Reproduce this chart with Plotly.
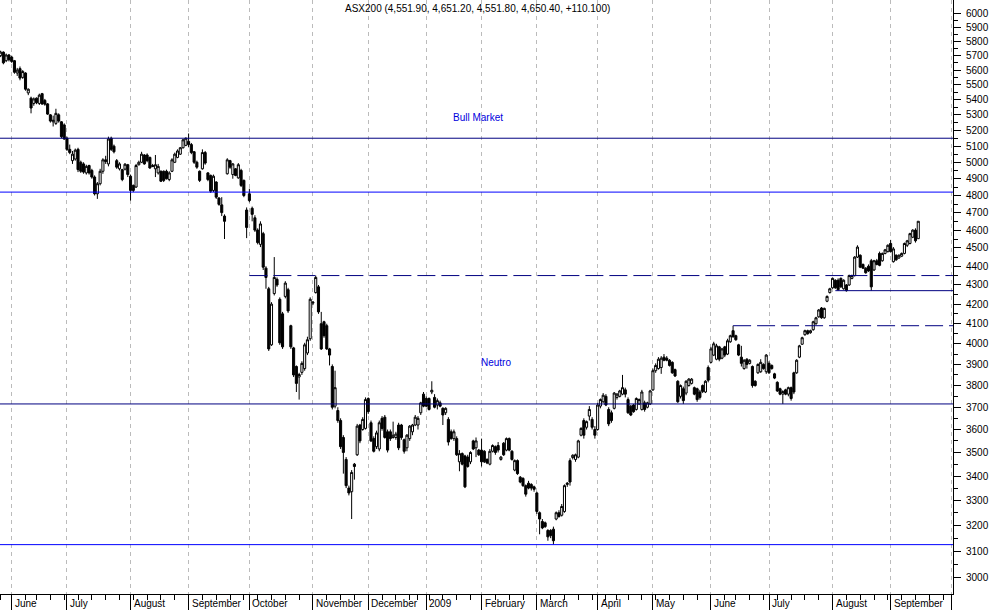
import numpy as np
import pandas as pd
import plotly.graph_objects as go

# ---------------- data ----------------
holidays = ["2008-06-09", "2008-12-25", "2008-12-26", "2009-01-01",
            "2009-01-26", "2009-04-10", "2009-04-13", "2009-06-08"]

# (open, high, low, close) per trading day, month by month
may08 = [(5700,5735,5690,5725),(5725,5730,5640,5650),(5665,5715,5655,5705),(5705,5712,5660,5672)]
jun08 = [(5690,5700,5650,5660),(5665,5670,5575,5585),(5580,5615,5560,5600),(5610,5625,5530,5545),
         (5550,5600,5540,5590),(5580,5585,5460,5470),(5445,5475,5430,5470),(5410,5420,5310,5345),
         (5375,5415,5360,5405),(5410,5415,5370,5380),(5375,5440,5365,5430),(5440,5445,5365,5372),
         (5395,5405,5360,5370),(5372,5378,5300,5305),(5300,5305,5250,5260),(5255,5295,5225,5265),
         (5245,5340,5235,5310),(5300,5310,5250,5260),(5255,5260,5150,5160),(5235,5245,5140,5145)]
jul08 = [(5150,5160,5070,5080),(5080,5110,5050,5060),(5010,5070,4990,5050),(5020,5085,5010,5075),
         (5080,5090,4940,4955),(5000,5010,4935,4945),(4990,5000,4930,4940),(4935,4985,4925,4975),
         (4980,4985,4925,4935),(4950,4960,4900,4910),(4910,4920,4800,4810),(4810,4880,4780,4870),
         (4870,4960,4860,4945),(4945,5025,4930,5015),(5015,5040,4990,5005),(4990,5160,4975,5145),
         (5150,5160,5070,5080),(5100,5110,5055,5065),(5010,5020,4960,4970),(4960,5000,4950,4990),
         (4955,4960,4885,4895),(4958,4995,4950,4988),(4985,4990,4910,4925)]
aug08 = [(4915,4925,4770,4830),(4860,4865,4820,4830),(4850,4990,4845,4980),(4985,5010,4980,5000),
         (5000,5065,4995,5050),(5045,5050,4985,4990),(5045,5055,5000,5010),(5030,5035,4960,4965),
         (4980,4990,4970,4975),(4960,5045,4910,4985),(4935,4990,4925,4975),(4945,4950,4880,4885),
         (4945,4950,4880,4890),(4945,4955,4895,4900),(4895,4945,4885,4935),(4945,5025,4940,5015),
         (5000,5060,4995,5050),(5030,5080,5025,5070),(5050,5095,5045,5090),(5090,5145,5085,5140),
         (5105,5155,5100,5150)]
sep08 = [(5130,5180,5095,5110),(5110,5120,5050,5060),(5065,5070,4990,5000),(5000,5010,4960,4970),
         (4945,4950,4880,4890),(4960,5080,4955,5060),(5060,5070,4985,4995),(4935,4940,4885,4895),
         (4920,4925,4815,4825),(4830,4925,4820,4915),(4880,4885,4780,4790),(4785,4790,4740,4748),
         (4745,4790,4680,4700),(4680,4690,4550,4650),(4930,5025,4925,5015),(5010,5015,4960,4970),
         (4925,4995,4900,4990),(4960,4965,4915,4920),(4905,4995,4900,4985),(4950,4960,4850,4860),
         (4890,4895,4790,4800),(4715,4730,4555,4615)]
oct08 = [(4810,4840,4760,4770),(4725,4735,4650,4690),(4670,4685,4590,4600),(4600,4610,4520,4530),
         (4520,4650,4505,4635),(4580,4590,4380,4395),(4390,4400,4280,4340),(4280,4290,3965,3975),
         (3995,4210,3990,4200),(4255,4450,4245,4340),(4330,4340,4290,4300),(4225,4235,3995,4005),
         (4150,4160,3975,3985),(4240,4320,4230,4310),(4275,4285,4155,4165),(4090,4095,3975,3985),
         (3980,3985,3840,3850),(3890,3895,3770,3810),(3840,3860,3735,3852),(3862,3915,3850,3905),
         (3880,4005,3870,3995),(3955,4035,3945,4020),(4025,4235,4015,4225)]
nov08 = [(4205,4215,4195,4210),(4260,4350,4255,4340),(4290,4300,4150,4160),(4100,4160,3970,3975),
         (4110,4115,4030,4040),(4090,4100,3970,3975),(3975,3980,3895,3945),(3890,3900,3690,3700),
         (3705,3870,3695,3790),(3685,3700,3630,3640),(3640,3650,3515,3525),(3565,3575,3410,3500),
         (3470,3480,3350,3360),(3350,3360,3320,3330),(3335,3425,3225,3415),(3450,3455,3385,3440),
         (3490,3625,3485,3615),(3620,3625,3540,3550),(3600,3655,3595,3645),(3605,3745,3600,3735)]
dec08 = [(3740,3745,3670,3680),(3630,3640,3545,3550),(3560,3570,3500,3505),(3525,3595,3515,3585),
         (3515,3640,3505,3630),(3650,3660,3595,3605),(3655,3665,3560,3565),(3590,3600,3500,3510),
         (3590,3600,3550,3560),(3565,3635,3560,3575),(3565,3590,3555,3580),(3620,3630,3510,3520),
         (3620,3625,3555,3565),(3555,3560,3495,3505),(3520,3580,3505,3575),(3560,3620,3550,3615),
         (3590,3625,3575,3620),(3620,3665,3615,3655),(3620,3660,3600,3650),(3675,3725,3665,3720),
         (3760,3770,3700,3705)]
jan09 = [(3740,3750,3700,3705),(3740,3745,3685,3690),(3770,3820,3760,3778),(3745,3760,3695,3700),
         (3710,3740,3690,3730),(3720,3730,3700,3705),(3695,3700,3620,3665),(3675,3700,3665,3695),
         (3645,3655,3530,3545),(3590,3600,3555,3560),(3560,3600,3550,3590),(3560,3570,3485,3490),
         (3460,3510,3420,3495),(3495,3500,3445,3450),(3485,3490,3350,3355),(3480,3490,3435,3440),
         (3460,3505,3450,3500),(3550,3555,3510,3515),(3520,3565,3480,3550),(3510,3515,3485,3490)]
feb09 = [(3510,3560,3440,3460),(3505,3510,3455,3460),(3470,3475,3450,3455),(3450,3515,3445,3505),
         (3505,3535,3500,3530),(3525,3530,3490,3500),(3530,3545,3500,3510),(3470,3485,3465,3480),
         (3540,3545,3485,3490),(3510,3565,3505,3560),(3560,3565,3505,3510),(3505,3510,3465,3470),
         (3425,3470,3420,3465),(3465,3470,3405,3410),(3395,3400,3370,3375),(3390,3395,3355,3360),
         (3360,3365,3315,3325),(3370,3380,3345,3350),(3365,3370,3340,3350),(3355,3360,3335,3345)]
mar09 = [(3330,3335,3245,3255),(3250,3255,3165,3225),(3215,3225,3185,3190),(3210,3215,3190,3195),
         (3180,3185,3140,3155),(3180,3185,3150,3160),(3185,3195,3125,3140),(3225,3255,3220,3250),
         (3250,3260,3230,3235),(3240,3285,3235,3275),(3255,3365,3250,3360),(3365,3375,3355,3370),
         (3465,3475,3360,3375),(3478,3492,3470,3488),(3470,3495,3460,3490),(3480,3555,3475,3550),
         (3575,3610,3570,3605),(3640,3650,3560,3575),(3610,3640,3600,3635),(3660,3705,3640,3690),
         (3645,3655,3600,3610),(3600,3615,3560,3575)]
apr09 = [(3600,3720,3595,3710),(3705,3740,3695,3735),(3725,3765,3720,3755),(3750,3760,3705,3710),
         (3690,3700,3615,3625),(3675,3685,3630,3640),(3695,3770,3690,3765),(3745,3765,3735,3760),
         (3750,3780,3745,3775),(3760,3850,3755,3790),(3780,3790,3745,3760),(3735,3745,3670,3675),
         (3705,3710,3660,3665),(3710,3715,3675,3680),(3690,3745,3685,3740),(3715,3740,3710,3735),
         (3690,3780,3685,3770),(3720,3730,3680,3690),(3700,3725,3695,3720),(3715,3780,3710,3775)]
may09 = [(3780,3880,3775,3870),(3870,3905,3860,3895),(3880,3935,3875,3925),(3885,3940,3855,3930),
         (3935,3950,3915,3920),(3930,3940,3915,3920),(3920,3925,3890,3895),(3910,3915,3855,3860),
         (3875,3880,3840,3845),(3820,3825,3720,3725),(3750,3805,3740,3800),(3785,3795,3715,3730),
         (3765,3825,3755,3820),(3800,3835,3795,3830),(3810,3835,3805,3830),(3790,3795,3755,3760),
         (3785,3790,3725,3735),(3770,3780,3735,3745),(3800,3805,3765,3772),(3770,3825,3765,3820),
         (3885,3895,3815,3825)]
jun09 = [(3910,3985,3905,3975),(3945,4010,3940,4000),(3925,4000,3920,3990),(3985,3990,3915,3925),
         (3930,3980,3925,3975),(3985,3990,3935,3945),(3950,4025,3945,4015),(4010,4045,4005,4040),
         (4065,4090,4030,4035),(4040,4045,4015,4020),(3995,4000,3940,3945),(3935,3990,3890,3905),
         (3880,3925,3875,3920),(3925,3930,3880,3900),(3905,3925,3900,3920),(3890,3895,3790,3800),
         (3820,3825,3795,3800),(3860,3905,3855,3900),(3865,3925,3860,3910),(3900,3905,3875,3880),
         (3865,3950,3855,3945)]
jul09 = [(3905,3915,3855,3860),(3895,3900,3875,3880),(3855,3860,3830,3835),(3815,3820,3770,3775),
         (3785,3790,3755,3760),(3760,3778,3715,3772),(3780,3785,3755,3760),(3760,3795,3750,3790),
         (3790,3795,3730,3740),(3860,3865,3760,3770),(3860,3925,3855,3920),(3935,3995,3930,3990),
         (3998,4035,3995,4030),(4045,4070,4040,4065),(4065,4070,4045,4050),(4055,4070,4050,4065),
         (4070,4115,4065,4110),(4100,4135,4095,4130),(4135,4175,4130,4170),(4180,4185,4125,4130),
         (4130,4182,4125,4178),(4215,4245,4210,4240),(4260,4285,4255,4280)]
aug09 = [(4285,4340,4280,4335),(4325,4330,4280,4285),(4325,4335,4270,4275),(4335,4340,4285,4290),
         (4280,4330,4275,4325),(4300,4305,4265,4270),(4300,4355,4295,4350),(4335,4355,4330,4350),
         (4350,4455,4345,4450),(4450,4515,4445,4505),(4460,4465,4390,4395),(4410,4415,4385,4390),
         (4390,4395,4360,4365),(4400,4410,4370,4375),(4430,4440,4270,4290),(4380,4435,4375,4430),
         (4430,4440,4405,4410),(4470,4480,4400,4405),(4430,4475,4425,4470),(4470,4495,4465,4490),
         (4480,4520,4475,4515)]
sep09 = [(4525,4545,4475,4480),(4425,4505,4420,4495),(4460,4465,4430,4435),(4445,4465,4440,4460),
         (4455,4475,4450,4470),(4470,4530,4465,4525),(4515,4545,4505,4540),(4525,4585,4520,4580),
         (4560,4605,4555,4600),(4600,4610,4530,4540),(4551.9,4651.2,4551.8,4650.4)]

# horizontal support / resistance levels
full_levels = [5150, 4820, 3715, 3125]
full_colors = ["#000080", "#0000FF", "#000080", "#0000FF"]
dashed_levels = [4350, 4090]
dashed_starts = ["2008-10-01", "2009-06-12"]
solid_levels = [4270]
solid_starts = ["2009-08-04"]

y_ticks = list(range(3000, 6001, 100))
y_minor = list(range(3050, 6000, 100))

month_names = {1: "2009", 2: "February", 3: "March", 4: "April", 5: "May", 6: "June",
               7: "July", 8: "August", 9: "September", 10: "October", 11: "November",
               12: "December"}

title_text = "ASX200 (4,551.90, 4,651.20, 4,551.80, 4,650.40, +110.100)"

# ---------------- build ----------------
all_days = pd.bdate_range("2008-05-27", "2009-09-15")
trade_days = [d for d in all_days if d.strftime("%Y-%m-%d") not in holidays]
ohlc = (may08 + jun08 + jul08 + aug08 + sep08 + oct08 + nov08 + dec08 + jan09 + feb09 +
        mar09 + apr09 + may09 + jun09 + jul09 + aug09 + sep09)
n = min(len(trade_days), len(ohlc))
if len(trade_days) != len(ohlc):
    print("length mismatch", len(trade_days), len(ohlc))
dates = [d.strftime("%Y-%m-%d") for d in trade_days[:n]]
o = [r[0] for r in ohlc[:n]]
h = [r[1] for r in ohlc[:n]]
l = [r[2] for r in ohlc[:n]]
c = [r[3] for r in ohlc[:n]]

# month starts (from June 2008) and weekly starts
month_starts = []
week_starts = []
prev = None
prev_week = None
for d in trade_days:
    key = (d.year, d.month)
    if key != prev:
        if d >= pd.Timestamp("2008-06-01"):
            month_starts.append(d)
        prev = key
    wk = d.isocalendar()[:2]
    if wk != prev_week:
        week_starts.append(d)
        prev_week = wk
month_tick_vals = [d.strftime("%Y-%m-%d") for d in month_starts] + ["2009-10-01"]
for extra in ["2009-09-21", "2009-09-28"]:
    week_starts.append(pd.Timestamp(extra))
week_tick_vals = [d.strftime("%Y-%m-%d") for d in week_starts]

x_range = ["2008-05-26 18:30", "2009-10-01 13:40"]
FONT = "Liberation Sans, Arial, sans-serif"
BLUE = "#0000DD"
NAVY = "#000080"

fig = go.Figure()

# level lines (as line traces, drawn in data units)
for lv, col in zip(full_levels, full_colors):
    fig.add_trace(go.Scatter(x=x_range, y=[lv, lv], mode="lines",
                             line=dict(color=col, width=1), hoverinfo="skip"))
for lv, st in zip(dashed_levels, dashed_starts):
    fig.add_trace(go.Scatter(x=[st, x_range[1]], y=[lv, lv], mode="lines",
                             line=dict(color=NAVY, width=1, dash="18px,6px"), hoverinfo="skip"))
for lv, st in zip(solid_levels, solid_starts):
    fig.add_trace(go.Scatter(x=[st, x_range[1]], y=[lv, lv], mode="lines",
                             line=dict(color=NAVY, width=1), hoverinfo="skip"))

fig.add_trace(go.Candlestick(
    x=dates, open=o, high=h, low=l, close=c,
    increasing=dict(line=dict(color="black", width=1), fillcolor="white"),
    decreasing=dict(line=dict(color="black", width=1), fillcolor="black"),
    whiskerwidth=0, hoverinfo="x+y", name="ASX200"))

annotations = []
for d in month_starts:
    annotations.append(dict(x=d.strftime("%Y-%m-%d"), xref="x", y=0, yref="paper",
                            text=month_names[d.month] if d.month != 1 else str(d.year),
                            showarrow=False, xanchor="left", yanchor="bottom",
                            xshift=1, yshift=-17, font=dict(family=FONT, size=10, color="black")))
annotations.append(dict(x=0.501, xref="paper", y=1 - 9 / 594, yref="paper", text=title_text,
                        showarrow=False, xanchor="center", yanchor="middle",
                        font=dict(family=FONT, size=10, color="black")))
annotations.append(dict(x=478 / 953, xref="paper", y=(594 - 118) / 594, yref="paper",
                        text="Bull Market", showarrow=False, xanchor="center", yanchor="middle",
                        font=dict(family=FONT, size=10, color=BLUE)))
annotations.append(dict(x=496 / 953, xref="paper", y=(594 - 362) / 594, yref="paper",
                        text="Neutro", showarrow=False, xanchor="center", yanchor="middle",
                        font=dict(family=FONT, size=10, color=BLUE)))

fig.update_layout(
    width=994, height=610,
    margin=dict(l=0, r=41, t=0, b=16, autoexpand=False),
    paper_bgcolor="white", plot_bgcolor="white",
    showlegend=False, hovermode="closest",
    boxgap=0.25, boxgroupgap=0,
    annotations=annotations,
    font=dict(family=FONT, size=10, color="black"),
    xaxis=dict(
        type="date", range=x_range, rangeslider=dict(visible=False),
        rangebreaks=[dict(bounds=["sat", "mon"]), dict(values=holidays)],
        tickmode="array", tickvals=month_tick_vals, showticklabels=False,
        ticks="outside", ticklen=16, tickcolor="black", tickwidth=1,
        showgrid=True, gridcolor="#BBBBBB", gridwidth=1, griddash="4px,4px",
        showline=True, linecolor="black", linewidth=1, zeroline=False,
        automargin=False,
        minor=dict(tickmode="array", tickvals=week_tick_vals, ticks="outside",
                   ticklen=5, tickcolor="black", tickwidth=1, showgrid=False),
        fixedrange=True),
    yaxis=dict(
        type="log", side="right", range=[3.4685, 3.7856],
        tickmode="array", tickvals=y_ticks, ticktext=[str(v) for v in y_ticks],
        ticks="outside", ticklen=7, tickcolor="black", tickwidth=1,
        ticklabelstandoff=3, automargin=False,
        tickfont=dict(family=FONT, size=10, color="black"),
        showgrid=False, zeroline=False,
        showline=True, linecolor="black", linewidth=1,
        minor=dict(tickmode="array", tickvals=y_minor, ticks="outside", ticklen=4,
                   tickcolor="black", tickwidth=1, showgrid=False),
        fixedrange=True),
)

fig.write_html("out.html", config={"displayModeBar": False},
               post_script="document.body.style.margin='0px';"
                           "document.body.style.padding='0px';"
                           "document.body.style.overflow='hidden';")
